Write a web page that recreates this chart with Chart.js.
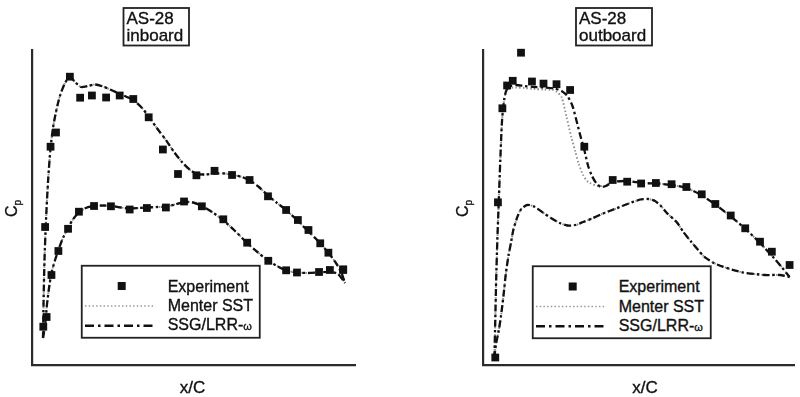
<!DOCTYPE html>
<html>
<head>
<meta charset="utf-8">
<script src="https://cdn.jsdelivr.net/npm/chart.js@4.4.1/dist/chart.umd.min.js"></script>
<style>
  html, body { margin: 0; padding: 0; background: #fff; }
  body { width: 800px; height: 397px; overflow: hidden; position: relative;
         font-family: "Liberation Sans", Arial, Helvetica, sans-serif; }
  .panel { position: absolute; top: 0; width: 400px; height: 397px; }
  .panel canvas { position: absolute; left: 0; top: 0; }
  #overlay { position: absolute; left: 0; top: 0; }
  #overlay text { stroke: #111; stroke-width: 0.35px; }
</style>
</head>
<body>
<div class="panel" style="left:0"><canvas id="inboard" width="400" height="397"></canvas></div>
<div class="panel" style="left:400px"><canvas id="outboard" width="400" height="397"></canvas></div>

<svg id="overlay" width="800" height="397" xmlns="http://www.w3.org/2000/svg"
     font-family="Liberation Sans, Arial, Helvetica, sans-serif" fill="#111">
  <!-- section title boxes -->
  <rect x="123.5" y="8" width="65.5" height="37.5" fill="#fff" stroke="#222" stroke-width="1.8"/>
  <text x="126.5" y="24.3" font-size="17">AS-28</text>
  <text x="126.5" y="40.8" font-size="17">inboard</text>

  <rect x="576" y="8" width="76" height="37.5" fill="#fff" stroke="#222" stroke-width="1.8"/>
  <text x="579" y="24.3" font-size="17">AS-28</text>
  <text x="579" y="40.8" font-size="17">outboard</text>

  <!-- axis titles -->
  <text transform="translate(16.5,217) rotate(-90)" font-size="16">C<tspan font-size="10" dy="4">p</tspan></text>
  <text transform="translate(468,217) rotate(-90)" font-size="16">C<tspan font-size="10" dy="4">p</tspan></text>
  <text x="192.5" y="392.5" font-size="17" text-anchor="middle">x/C</text>
  <text x="645" y="392.5" font-size="17" text-anchor="middle">x/C</text>

  <!-- legends -->
  <g id="legendInboard">
    <rect x="81.75" y="265.75" width="178" height="72" fill="#fff" stroke="#222" stroke-width="1.8"/>
    <rect x="117.7" y="282" width="8" height="8" fill="#111"/>
    <line x1="85" y1="306" x2="155" y2="306" stroke="#9a9a9a" stroke-width="1.6" stroke-dasharray="1.5 2.2"/>
    <line x1="85" y1="325.7" x2="155" y2="325.7" stroke="#111" stroke-width="2.4" stroke-dasharray="9 4 2.5 4"/>
    <text x="167.7" y="291.7" font-size="16">Experiment</text>
    <text x="167.7" y="311" font-size="16">Menter SST</text>
    <text x="167.7" y="330.2" font-size="16">SSG/LRR-<tspan font-size="11">ω</tspan></text>
  </g>
  <g id="legendOutboard" transform="translate(451,0.5)">
    <rect x="81.75" y="265.75" width="178" height="72" fill="#fff" stroke="#222" stroke-width="1.8"/>
    <rect x="117.7" y="282" width="8" height="8" fill="#111"/>
    <line x1="85" y1="306" x2="155" y2="306" stroke="#9a9a9a" stroke-width="1.6" stroke-dasharray="1.5 2.2"/>
    <line x1="85" y1="325.7" x2="155" y2="325.7" stroke="#111" stroke-width="2.4" stroke-dasharray="9 4 2.5 4"/>
    <text x="167.7" y="291.7" font-size="16">Experiment</text>
    <text x="167.7" y="311" font-size="16">Menter SST</text>
    <text x="167.7" y="330.2" font-size="16">SSG/LRR-<tspan font-size="11">ω</tspan></text>
  </g>
</svg>

<script>
// Surface pressure coefficient, AS-28 blade sections: [x/C, Cp]

// ---- inboard section ----
const inboardExpUpper = [
  [0.001, 0.767], [0.012, 0.67], [0.007, -0.23], [0.025, -1.033], [0.043, -1.175],
  [0.089, -1.733], [0.123, -1.523], [0.162, -1.545], [0.209, -1.525], [0.254, -1.545],
  [0.299, -1.51], [0.350, -1.327], [0.397, -1.005], [0.447, -0.76], [0.508, -0.747],
  [0.568, -0.792], [0.626, -0.75], [0.684, -0.70], [0.745, -0.537], [0.805, -0.40],
  [0.844, -0.30], [0.879, -0.20], [0.918, -0.067], [0.945, 0.027], [0.994, 0.193]
];
const inboardExpLower = [
  [0.028, 0.25], [0.051, 0.01], [0.083, -0.212], [0.119, -0.383], [0.169, -0.44],
  [0.225, -0.437], [0.287, -0.405], [0.344, -0.42], [0.407, -0.425], [0.467, -0.485],
  [0.526, -0.437], [0.597, -0.307], [0.676, -0.073], [0.746, 0.108], [0.805, 0.203],
  [0.841, 0.225], [0.914, 0.22], [0.950, 0.20], [0.994, 0.20]
];
const inboardSsgUpper = [
  [0.000, 0.88], [0.002, 0.50], [0.005, 0.10], [0.010, -0.30], [0.017, -0.70],
  [0.025, -1.02], [0.033, -1.22], [0.043, -1.38], [0.056, -1.54], [0.073, -1.67],
  [0.089, -1.73], [0.106, -1.68], [0.126, -1.63], [0.149, -1.64], [0.172, -1.655],
  [0.199, -1.635], [0.222, -1.605], [0.248, -1.57], [0.278, -1.53], [0.301, -1.495],
  [0.328, -1.42], [0.351, -1.33], [0.377, -1.22], [0.407, -1.10], [0.434, -0.98],
  [0.460, -0.88], [0.487, -0.80], [0.510, -0.76], [0.536, -0.755], [0.570, -0.765],
  [0.603, -0.765], [0.629, -0.75], [0.659, -0.73], [0.685, -0.695], [0.715, -0.63],
  [0.745, -0.545], [0.775, -0.47], [0.805, -0.40], [0.841, -0.30], [0.877, -0.19],
  [0.911, -0.09], [0.944, 0.025], [0.970, 0.13], [0.987, 0.22], [1.000, 0.33]
];
const inboardSsgLower = [
  [0.000, 0.88], [0.007, 0.75], [0.013, 0.55], [0.020, 0.38], [0.028, 0.23],
  [0.040, 0.10], [0.051, 0.00], [0.066, -0.12], [0.083, -0.22], [0.099, -0.305],
  [0.119, -0.375], [0.142, -0.42], [0.169, -0.44], [0.199, -0.445], [0.229, -0.44],
  [0.258, -0.425], [0.288, -0.415], [0.318, -0.42], [0.344, -0.425], [0.378, -0.43],
  [0.407, -0.435], [0.437, -0.455], [0.467, -0.48], [0.497, -0.475], [0.523, -0.445],
  [0.560, -0.38], [0.596, -0.30], [0.636, -0.19], [0.676, -0.07], [0.712, 0.025],
  [0.745, 0.105], [0.775, 0.16], [0.805, 0.205], [0.841, 0.225], [0.878, 0.23],
  [0.914, 0.225], [0.950, 0.22], [0.977, 0.24], [1.000, 0.33]
];
// Menter SST lies on top of SSG/LRR-ω over the whole inboard section
const inboardSstUpper = inboardSsgUpper;
const inboardSstLower = inboardSsgLower;

// ---- outboard section ----
const outboardExpUpper = [
  [0.005, 1.075], [0.014, -0.477], [0.029, -1.417], [0.045, -1.645], [0.064, -1.692],
  [0.092, -1.973], [0.129, -1.685], [0.168, -1.664], [0.212, -1.658], [0.258, -1.60],
  [0.306, -1.033], [0.402, -0.70], [0.451, -0.683], [0.498, -0.665], [0.548, -0.67],
  [0.601, -0.658], [0.651, -0.63], [0.703, -0.557], [0.749, -0.46], [0.801, -0.345],
  [0.850, -0.217], [0.900, -0.083], [0.940, 0.017], [1.000, 0.15]
];
const outboardSsgUpper = [
  [0.002, 1.08], [0.005, 0.70], [0.008, 0.30], [0.012, -0.10], [0.017, -0.50],
  [0.022, -0.90], [0.028, -1.30], [0.035, -1.50], [0.043, -1.60], [0.057, -1.64],
  [0.076, -1.65], [0.103, -1.64], [0.136, -1.63], [0.169, -1.625], [0.203, -1.615],
  [0.229, -1.59], [0.249, -1.54], [0.266, -1.44], [0.279, -1.30], [0.292, -1.15],
  [0.306, -1.00], [0.319, -0.84], [0.332, -0.74], [0.346, -0.67], [0.362, -0.63],
  [0.379, -0.64], [0.402, -0.68], [0.452, -0.69], [0.502, -0.67], [0.552, -0.665],
  [0.601, -0.65], [0.651, -0.62], [0.701, -0.55], [0.751, -0.45], [0.801, -0.335],
  [0.851, -0.21], [0.900, -0.07], [0.944, 0.07], [0.973, 0.17], [1.000, 0.27]
];
const outboardSstUpper = [
  [0.002, 1.08], [0.005, 0.70], [0.008, 0.30], [0.012, -0.10], [0.017, -0.50],
  [0.022, -0.90], [0.028, -1.30], [0.035, -1.50], [0.043, -1.59], [0.057, -1.62],
  [0.076, -1.625], [0.103, -1.62], [0.136, -1.61], [0.169, -1.605], [0.200, -1.60],
  [0.213, -1.58], [0.229, -1.53], [0.246, -1.33], [0.262, -1.13], [0.276, -0.98],
  [0.286, -0.87], [0.302, -0.75], [0.319, -0.68], [0.352, -0.64], [0.379, -0.645],
  [0.402, -0.68], [0.452, -0.69], [0.502, -0.67], [0.552, -0.665], [0.601, -0.65],
  [0.651, -0.62], [0.701, -0.55], [0.751, -0.45], [0.801, -0.335], [0.851, -0.21],
  [0.900, -0.07], [0.944, 0.07], [0.973, 0.17], [1.000, 0.27]
];
const outboardSsgLower = [
  [0.002, 1.08], [0.007, 0.95], [0.017, 0.80], [0.024, 0.667], [0.033, 0.45],
  [0.041, 0.23], [0.050, 0.05], [0.058, -0.07], [0.066, -0.20], [0.080, -0.333],
  [0.093, -0.41], [0.113, -0.45], [0.136, -0.435], [0.168, -0.37], [0.196, -0.315],
  [0.223, -0.27], [0.249, -0.245], [0.276, -0.25], [0.302, -0.28], [0.332, -0.315],
  [0.369, -0.365], [0.409, -0.41], [0.452, -0.46], [0.495, -0.505], [0.522, -0.51],
  [0.545, -0.49], [0.565, -0.44], [0.585, -0.37], [0.618, -0.28], [0.641, -0.18],
  [0.668, -0.08], [0.691, 0.00], [0.711, 0.067], [0.744, 0.13], [0.774, 0.167],
  [0.840, 0.223], [0.917, 0.25], [0.967, 0.25], [1.000, 0.27]
];
const outboardSstLower = outboardSsgLower;

// Cp axis runs downward (suction side on top)
const cpRange = [-2.0, 1.15];
const inboardXRange = [-0.0364, 1.0331];
const outboardXRange = [-0.0365, 1.0166];

// ---- styles ----
const INK = '#111';
const AXIS = '#2b2b2b';
const SST_GREY = '#8e8e8e';

const toPts = arr => arr.map(([x, y]) => ({ x, y }));

function expSet(label, data) {
  return {
    label, data: toPts(data), showLine: false,
    pointStyle: 'rect', pointRadius: 5.5, pointBackgroundColor: INK,
    pointBorderWidth: 0, clip: false
  };
}
function ssgSet(label, data) {
  return {
    label, data: toPts(data), showLine: true, pointRadius: 0,
    borderColor: INK, borderWidth: 2.3, borderDash: [7, 3, 2.5, 3],
    tension: 0.25, clip: false
  };
}
function sstSet(label, data) {
  return {
    label, data: toPts(data), showLine: true, pointRadius: 0,
    borderColor: SST_GREY, borderWidth: 1.9, borderDash: [1.5, 2.2],
    tension: 0.25, clip: false
  };
}

function makeChart(id, datasets, xRange, padding) {
  return new Chart(document.getElementById(id), {
    type: 'scatter',
    data: { datasets },
    options: {
      responsive: false,
      animation: false,
      devicePixelRatio: 1,
      events: [],
      layout: { padding },
      plugins: { legend: { display: false }, tooltip: { enabled: false } },
      scales: {
        x: {
          type: 'linear', min: xRange[0], max: xRange[1],
          ticks: { display: false },
          grid: { display: false, drawTicks: false },
          border: { display: true, color: AXIS, width: 2.2 }
        },
        y: {
          type: 'linear', reverse: true, min: cpRange[0], max: cpRange[1],
          ticks: { display: false },
          grid: { display: false, drawTicks: false },
          border: { display: true, color: AXIS, width: 2.2 }
        }
      }
    }
  });
}

makeChart('inboard', [
  expSet('Experiment', inboardExpUpper),
  expSet('Experiment', inboardExpLower),
  ssgSet('SSG/LRR-ω', inboardSsgUpper),
  ssgSet('SSG/LRR-ω', inboardSsgLower),
  sstSet('Menter SST', inboardSstUpper),
  sstSet('Menter SST', inboardSstLower)
], inboardXRange, { left: 32, top: 50, right: 45, bottom: 32 });

makeChart('outboard', [
  expSet('Experiment', outboardExpUpper),
  ssgSet('SSG/LRR-ω', outboardSsgUpper),
  ssgSet('SSG/LRR-ω', outboardSsgLower),
  sstSet('Menter SST', outboardSstUpper),
  sstSet('Menter SST', outboardSstLower)
], outboardXRange, { left: 83, top: 50, right: 0, bottom: 32 });
</script>
</body>
</html>
